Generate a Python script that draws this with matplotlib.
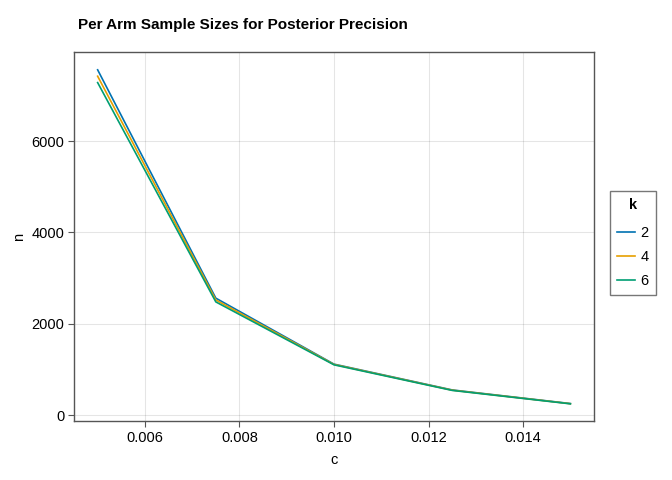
import matplotlib
matplotlib.use("Agg")
import matplotlib.pyplot as plt

plt.rcParams['font.family'] = ['Liberation Sans', 'DejaVu Sans']

# data
c_values = [0.005, 0.0075, 0.010, 0.0125, 0.015]
k_labels = ['2', '4', '6']
n_k2 = [7560, 2560, 1115, 550, 252]
n_k4 = [7420, 2520, 1108, 545, 249]
n_k6 = [7280, 2478, 1100, 540, 246]
colors = ['#0072B2', '#E69F00', '#009E73']

fig = plt.figure(figsize=(6.72, 4.8), dpi=100)
ax = fig.add_axes([74 / 672, 59 / 480, 520 / 672, 369 / 480])

for label, n, col in zip(k_labels, [n_k2, n_k4, n_k6], colors):
    ax.plot(c_values, n, color=col, lw=1.2, label=label)

ax.set_xlim(0.0045, 0.0155)
ax.set_ylim(-130, 7950)
ax.set_xticks([0.006, 0.008, 0.010, 0.012, 0.014])
ax.set_xticklabels(['0.006', '0.008', '0.010', '0.012', '0.014'])
ax.set_yticks([0, 2000, 4000, 6000])
ax.grid(True, color='black', alpha=0.1, lw=0.8)
ax.set_axisbelow(True)
for sp in ax.spines.values():
    sp.set_color('#555555')
    sp.set_linewidth(1.0)
ax.tick_params(direction='out', length=4, width=0.8, color='#555555',
               labelsize=10.5, pad=3)
ax.set_xlabel('c', fontsize=10.5, labelpad=6)
ax.set_ylabel('n', fontsize=10.5, labelpad=4)
fig.text(78 / 672, 1 - 25 / 480, 'Per Arm Sample Sizes for Posterior Precision',
         fontsize=11, fontweight='bold', va='center', ha='left')

leg = ax.legend(title='k', loc='center', bbox_to_anchor=(633 / 672, 237 / 480),
                bbox_transform=fig.transFigure, fontsize=10.5, handlelength=1.2,
                frameon=True, fancybox=False, edgecolor='#555555',
                borderpad=0.5, labelspacing=0.68, handletextpad=0.4,
                borderaxespad=0)
leg.get_title().set_fontweight('bold')
leg.get_title().set_fontsize(10.5)
leg._legend_box.sep = 10
leg.get_frame().set_linewidth(1.0)

fig.savefig('out.png', dpi=100)
